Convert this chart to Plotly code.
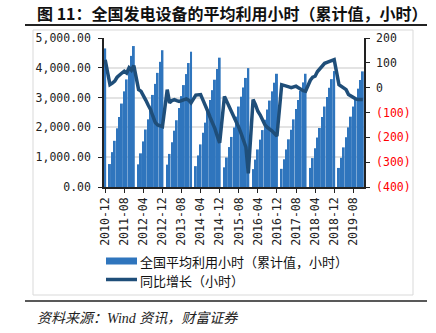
import plotly.graph_objects as go

# ---------------- data ----------------
months = [f"{y}-{m:02d}" for y in range(2010, 2020) for m in range(1, 13)][11:]  # 2010-12 .. 2019-12

hours_2010_12 = 4650
hours_2011 = [770, 1170, 1550, 1970, 2350, 2800, 3210, 3610, 4000, 4400, 4730]
hours_2012 = [760, 1130, 1530, 1930, 2270, 2670, 3090, 3460, 3830, 4200, 4590]
hours_2013 = [750, 1110, 1500, 1890, 2240, 2650, 3050, 3420, 3790, 4160, 4540]
hours_2014 = [700, 1060, 1430, 1820, 2160, 2550, 2920, 3250, 3600, 3960, 4340]
hours_2015 = [660, 990, 1340, 1680, 2000, 2360, 2700, 3030, 3340, 3660, 3990]
hours_2016 = [600, 920, 1260, 1590, 1910, 2260, 2600, 2900, 3210, 3500, 3800]
hours_2017 = [610, 930, 1260, 1600, 1920, 2270, 2620, 2920, 3230, 3510, 3800]
hours_2018 = [640, 970, 1300, 1660, 1980, 2350, 2700, 3020, 3330, 3620, 3890]
hours_2019 = [640, 980, 1330, 1670, 2000, 2360, 2700, 3000, 3300, 3590, 3880]

yoy_2010_12 = 112
yoy_2011 = [12, 18, 26, 42, 52, 59, 66, 59, 80, 70, 89]
yoy_2012 = [-8, -14, -30, -50, -70, -88, -115, -140, -150, -155, -157]
yoy_2013 = [-8, -61, -52, -48, -52, -55, -52, -50, -45, -50, -61]
yoy_2014 = [-30, -28, -28, -50, -70, -95, -120, -140, -165, -195, -222]
yoy_2015 = [-35, -55, -80, -101, -120, -138, -160, -185, -210, -240, -345]
yoy_2016 = [-48, -68, -95, -110, -128, -150, -160, -166, -175, -185, -195]
yoy_2017 = [12, 8, 6, 3, 0, 3, 6, 0, -8, -12, -14]
yoy_2018 = [30, 42, 46, 65, 75, 85, 98, 102, 106, 110, 113]
yoy_2019 = [12, 5, 0, -8, -28, -35, -38, -45, -48, -48, -48]

right_tickvals = [-400, -300, -200, -100, 0, 100, 200]
right_ticktext = ["(400)", "(300)", "(200)", "(100)", "0", "100", "200"]

bar_name = "全国平均利用小时（累计值，小时）"
line_name = "同比增长（小时）"
title_text = "图 11：全国发电设备的平均利用小时（累计值，小时）"
source_text = "资料来源：Wind 资讯，财富证券"

# -------------- assemble series (January not reported) --------------
hours = [hours_2010_12]
yoy = [yoy_2010_12]
for h, g in [(hours_2011, yoy_2011), (hours_2012, yoy_2012), (hours_2013, yoy_2013),
             (hours_2014, yoy_2014), (hours_2015, yoy_2015), (hours_2016, yoy_2016),
             (hours_2017, yoy_2017), (hours_2018, yoy_2018), (hours_2019, yoy_2019)]:
    hours += [None] + h
    yoy += [None] + g

# -------------- layout geometry --------------
W, H = 436, 333
L, R, T, B = 104, 364, 38, 187
ml, mr, mt, mb = L, W - R, T, H - B
pw, ph = R - L, B - T

def px(x):
    return (x - L) / pw

def py(y):
    return (B - y) / ph

fig = go.Figure()
fig.add_trace(go.Bar(x=months, y=hours, marker=dict(color="#2F75BD", line=dict(width=0)),
                     name=bar_name, showlegend=False))
fig.add_trace(go.Scatter(x=months, y=yoy, yaxis="y2", mode="lines", connectgaps=True,
                         line=dict(color="#1F4E79", width=3.5), name=line_name, showlegend=False))

tickfont = dict(family="DejaVu Sans Mono", size=11.5, color="#222")
red_text = [f"<span style='color:#FF0000'>{t}</span>" if v < 0 else t
            for v, t in zip(right_tickvals, right_ticktext)]

fig.update_layout(
    width=W, height=H,
    margin=dict(l=ml, r=mr, t=mt, b=mb, pad=0),
    paper_bgcolor="white", plot_bgcolor="white",
    bargap=0.18,
    xaxis=dict(type="category", tickmode="array", tickvals=months[::8], ticktext=months[::8],
               tickangle=-90, tickfont=tickfont, showgrid=False,
               showline=True, linecolor="#222", linewidth=1.5,
               ticks="outside", ticklen=4, tickcolor="#222"),
    yaxis=dict(range=[0, 5000], tickvals=[0, 1000, 2000, 3000, 4000, 5000], tickformat=",.2f",
               tickfont=tickfont, showgrid=True, gridcolor="#E3E3E3", gridwidth=1.5,
               showline=True, linecolor="#222", linewidth=1.5, ticklabelstandoff=5,
               ticks="outside", ticklen=4, tickcolor="#222", zeroline=False),
    yaxis2=dict(range=[-400, 200], overlaying="y", side="right", tickmode="array",
                tickvals=right_tickvals, ticktext=red_text, tickfont=tickfont,
                showgrid=False, zeroline=False, showline=True, linecolor="#222", linewidth=1.5,
                ticklabelstandoff=4,
                ticks="outside", ticklen=4, tickcolor="#222"),
)

shapes = [
    dict(type="rect", xref="paper", yref="paper", x0=px(33), x1=px(413), y0=py(295), y1=py(30),
         line=dict(color="#D9D9D9", width=1), layer="below"),
    dict(type="line", xref="paper", yref="paper", x0=px(25), x1=px(427), y0=py(25), y1=py(25),
         line=dict(color="#222", width=2)),
    dict(type="line", xref="paper", yref="paper", x0=px(25), x1=px(427), y0=py(301), y1=py(301),
         line=dict(color="#222", width=1.5)),
    dict(type="rect", xref="paper", yref="paper", x0=px(106), x1=px(137), y0=py(264.5), y1=py(257.5),
         fillcolor="#2F75BD", line=dict(width=0)),
    dict(type="line", xref="paper", yref="paper", x0=px(106), x1=px(137), y0=py(279.5), y1=py(279.5),
         line=dict(color="#1F4E79", width=3.5)),
]
cjk = "Noto Sans CJK SC"
annotations = [
    dict(text=f"<b>{title_text}</b>", xref="paper", yref="paper", x=px(35), y=py(13),
         xanchor="left", yanchor="middle", showarrow=False,
         font=dict(family=cjk, size=16, color="#111")),
    dict(text=bar_name, xref="paper", yref="paper", x=px(138), y=py(261),
         xanchor="left", yanchor="middle", showarrow=False,
         font=dict(family=cjk, size=13, color="#111")),
    dict(text=line_name, xref="paper", yref="paper", x=px(138), y=py(280),
         xanchor="left", yanchor="middle", showarrow=False,
         font=dict(family=cjk, size=13, color="#111")),
    dict(text=f"<i>{source_text}</i>", xref="paper", yref="paper", x=px(35), y=py(318),
         xanchor="left", yanchor="middle", showarrow=False,
         font=dict(family="Liberation Serif, " + cjk, size=14, color="#222")),
]
fig.update_layout(shapes=shapes, annotations=annotations)

fig.write_html("out.html")
